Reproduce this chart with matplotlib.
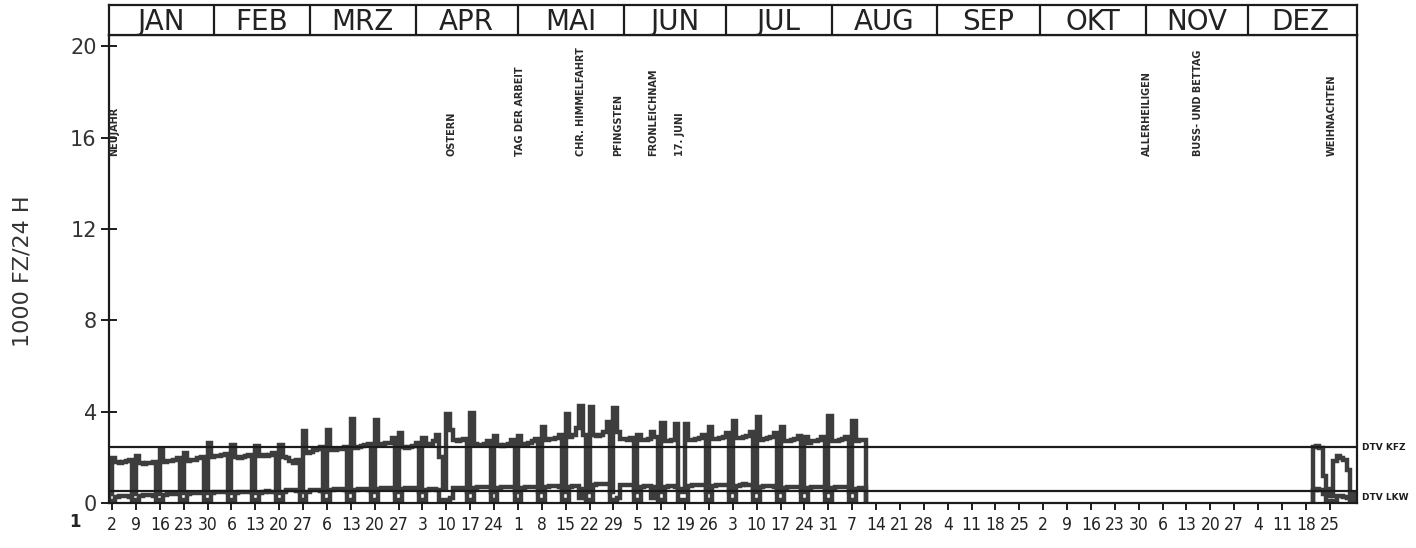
import numpy as np
import matplotlib.pyplot as plt
from matplotlib import transforms

# daily values, 1000 vehicles / 24 h, one row per week: [Sat, Sun, Mon, Tue, Wed, Thu, Fri]
# first row starts Sat 1 Jan (day 0); series stops Wed 10 Aug
kfz_rows = [
    [0.40, 1.95, 1.80, 1.75, 1.80, 1.85, 1.90],
    [0.40, 2.05, 1.75, 1.70, 1.75, 1.75, 1.80],
    [0.40, 2.30, 1.80, 1.85, 1.85, 1.90, 1.95],
    [0.45, 2.20, 1.85, 1.90, 1.90, 1.95, 2.00],
    [0.45, 2.65, 2.00, 2.05, 2.05, 2.10, 2.15],
    [0.45, 2.55, 2.00, 1.95, 2.00, 2.05, 2.10],
    [0.45, 2.50, 2.05, 2.10, 2.05, 2.10, 2.20],
    [0.45, 2.55, 2.00, 1.95, 1.85, 1.75, 1.90],
    [0.50, 3.15, 2.20, 2.25, 2.30, 2.35, 2.45],
    [0.50, 3.20, 2.30, 2.30, 2.35, 2.35, 2.45],
    [0.50, 3.70, 2.40, 2.45, 2.50, 2.55, 2.60],
    [0.50, 3.65, 2.60, 2.60, 2.65, 2.65, 2.85],
    [0.50, 3.05, 2.45, 2.40, 2.45, 2.50, 2.65],
    [0.50, 2.85, 2.55, 2.60, 2.70, 3.00, 2.00],
    [0.60, 3.90, 3.20, 2.75, 2.70, 2.75, 2.80],
    [0.50, 3.95, 2.60, 2.55, 2.55, 2.60, 2.70],
    [0.50, 2.95, 2.55, 2.50, 2.55, 2.60, 2.75],
    [0.50, 2.95, 2.60, 2.60, 2.65, 2.70, 2.80],
    [0.50, 3.35, 2.75, 2.80, 2.80, 2.85, 3.00],
    [0.50, 3.90, 2.90, 3.00, 3.30, 4.25, 3.00],
    [0.50, 4.20, 3.00, 2.95, 3.00, 3.10, 3.55],
    [0.50, 4.15, 3.10, 2.80, 2.80, 2.75, 2.85],
    [0.50, 3.00, 2.75, 2.75, 2.80, 3.10, 2.90],
    [0.50, 3.50, 2.70, 2.70, 2.75, 3.45, 0.60],
    [0.50, 3.45, 2.75, 2.75, 2.80, 2.85, 3.00],
    [0.50, 3.35, 2.80, 2.80, 2.85, 2.90, 3.05],
    [0.50, 3.60, 2.85, 2.85, 2.90, 2.95, 3.10],
    [0.50, 3.75, 2.75, 2.80, 2.85, 2.90, 3.05],
    [0.50, 3.35, 2.70, 2.70, 2.75, 2.80, 2.95],
    [0.50, 2.90, 2.65, 2.70, 2.70, 2.75, 2.90],
    [0.50, 3.80, 2.70, 2.70, 2.75, 2.80, 2.90],
    [0.50, 3.60, 2.70, 2.75, 2.75],
]
lkw_rows = [
    [0.10, 0.05, 0.25, 0.30, 0.30, 0.30, 0.28],
    [0.12, 0.05, 0.30, 0.35, 0.35, 0.35, 0.32],
    [0.12, 0.05, 0.35, 0.40, 0.40, 0.40, 0.38],
    [0.12, 0.05, 0.40, 0.45, 0.45, 0.45, 0.42],
    [0.15, 0.05, 0.45, 0.50, 0.50, 0.50, 0.48],
    [0.15, 0.05, 0.45, 0.50, 0.50, 0.50, 0.48],
    [0.15, 0.05, 0.45, 0.50, 0.52, 0.50, 0.48],
    [0.15, 0.05, 0.50, 0.55, 0.55, 0.55, 0.52],
    [0.15, 0.05, 0.50, 0.55, 0.55, 0.55, 0.52],
    [0.15, 0.05, 0.55, 0.60, 0.60, 0.60, 0.58],
    [0.15, 0.05, 0.55, 0.60, 0.62, 0.60, 0.58],
    [0.15, 0.05, 0.60, 0.65, 0.65, 0.65, 0.62],
    [0.15, 0.05, 0.60, 0.65, 0.65, 0.65, 0.62],
    [0.15, 0.05, 0.55, 0.60, 0.60, 0.55, 0.15],
    [0.15, 0.05, 0.20, 0.65, 0.65, 0.65, 0.62],
    [0.15, 0.05, 0.65, 0.70, 0.70, 0.70, 0.68],
    [0.15, 0.05, 0.65, 0.70, 0.72, 0.70, 0.68],
    [0.15, 0.05, 0.65, 0.70, 0.70, 0.70, 0.68],
    [0.15, 0.05, 0.70, 0.75, 0.75, 0.75, 0.72],
    [0.15, 0.05, 0.70, 0.75, 0.75, 0.20, 0.60],
    [0.15, 0.05, 0.80, 0.85, 0.85, 0.85, 0.82],
    [0.15, 0.05, 0.20, 0.80, 0.80, 0.80, 0.78],
    [0.15, 0.05, 0.70, 0.75, 0.75, 0.20, 0.70],
    [0.15, 0.05, 0.70, 0.75, 0.75, 0.70, 0.15],
    [0.15, 0.05, 0.75, 0.80, 0.80, 0.80, 0.78],
    [0.15, 0.05, 0.75, 0.80, 0.80, 0.80, 0.78],
    [0.15, 0.05, 0.75, 0.80, 0.82, 0.80, 0.78],
    [0.15, 0.05, 0.70, 0.75, 0.75, 0.75, 0.72],
    [0.15, 0.05, 0.65, 0.70, 0.70, 0.70, 0.68],
    [0.15, 0.05, 0.65, 0.70, 0.70, 0.70, 0.68],
    [0.15, 0.05, 0.65, 0.70, 0.70, 0.70, 0.68],
    [0.15, 0.05, 0.60, 0.65, 0.65],
]

# second block: Tue 20 Dec .. Sat 31 Dec
dec_start = 353
kfz_dec = [2.45, 2.50, 2.40, 1.20, 0.60, 0.30, 1.85, 2.05, 1.95, 1.90, 1.45, 0.40]
lkw_dec = [0.55, 0.60, 0.55, 0.40, 0.10, 0.05, 0.10, 0.30, 0.30, 0.25, 0.20, 0.05]

dtv_kfz = 2.44
dtv_lkw = 0.53

months = ['JAN', 'FEB', 'MRZ', 'APR', 'MAI', 'JUN', 'JUL', 'AUG', 'SEP', 'OKT', 'NOV', 'DEZ']
month_days = [31, 28, 31, 30, 31, 30, 31, 31, 30, 31, 30, 31]

# Sundays, day of month
sunday_labels = ['2', '9', '16', '23', '30', '6', '13', '20', '27', '6', '13', '20', '27',
                 '3', '10', '17', '24', '1', '8', '15', '22', '29', '5', '12', '19', '26',
                 '3', '10', '17', '24', '31', '7', '14', '21', '28', '4', '11', '18', '25',
                 '2', '9', '16', '23', '30', '6', '13', '20', '27', '4', '11', '18', '25']

holidays = ['NEUJAHR', 'OSTERN', 'TAG DER ARBEIT', 'CHR. HIMMELFAHRT', 'PFINGSTEN',
            'FRONLEICHNAM', '17. JUNI', 'ALLERHEILIGEN', 'BUSS- UND BETTAG', 'WEIHNACHTEN']
holiday_days = [0, 100, 120, 138, 149, 159, 167, 304, 319, 358]

kfz_main = np.concatenate([np.array(r, dtype=float) for r in kfz_rows])
lkw_main = np.concatenate([np.array(r, dtype=float) for r in lkw_rows])

DARK = '#3d3d3d'
FRAME = '#1c1c1c'

fig = plt.figure(figsize=(14.16, 5.48), dpi=100)
left, right = 108.6 / 1416, 1357 / 1416
bottom, top = 1 - 503 / 548, 1 - 35 / 548
ax = fig.add_axes([left, bottom, right - left, top - bottom])
ax.set_xlim(0, 366)
ax.set_ylim(0, 20.5)


def step_block(x0, vals):
    # daily steps, closed down to zero at both ends
    n = len(vals)
    xs = np.r_[x0, np.arange(x0, x0 + n + 1)]
    ys = np.r_[0, vals, 0]
    return xs, ys


for start, k, l in [(0, kfz_main, lkw_main), (dec_start, kfz_dec, lkw_dec)]:
    xs, ys = step_block(start, np.array(k))
    ax.plot(xs, ys, drawstyle='steps-post', color=DARK, lw=3.2, solid_joinstyle='miter')
    xs, ys = step_block(start, np.array(l))
    ax.plot(xs, ys, drawstyle='steps-post', color=DARK, lw=3.2, solid_joinstyle='miter')

# DTV reference lines
ax.axhline(dtv_kfz, color=FRAME, lw=1.6)
ax.axhline(dtv_lkw, color=FRAME, lw=1.6)
trans = transforms.blended_transform_factory(ax.transAxes, ax.transData)
ax.text(1.004, dtv_kfz, 'DTV KFZ', transform=trans, fontsize=6.5, fontweight='bold',
        va='center', ha='left', color=FRAME)
ax.text(1.004, dtv_lkw - 0.3, 'DTV LKW', transform=trans, fontsize=6.5, fontweight='bold',
        va='center', ha='left', color=FRAME)

# holiday labels
for name, d in zip(holidays, holiday_days):
    x = d + 0.5 if d > 0 else d + 1.5
    ax.text(x, 15.2, name, rotation=90, ha='center', va='bottom', fontsize=7,
            fontweight='bold', color='#2a2a2a', clip_on=True)

for s in ax.spines.values():
    s.set_color(FRAME)
    s.set_linewidth(1.6)

ax.set_yticks([0, 4, 8, 12, 16, 20])
ax.tick_params(axis='y', direction='inout', length=11, width=1.4, color=FRAME,
               labelsize=15, pad=3, labelcolor='#333333')
ax.set_xticks(np.arange(1, 365, 7))
ax.set_xticklabels(sunday_labels)
ax.tick_params(axis='x', direction='out', length=5, width=1.4, color=FRAME,
               labelsize=12.5, pad=4, labelcolor='#222222')
for t in ax.get_xticklabels():
    t.set_family('DejaVu Sans')
    t.set_stretch('condensed')

fig.text(0.016, 0.505, '1000 FZ/24 H', rotation=90, ha='center', va='center',
         fontsize=16, color='#333333')
fig.text(75 / 1416, 1 - 522 / 548, '1', fontsize=12, fontweight='bold', ha='center',
         va='center', color='#222222')

# month band on top
axm = fig.add_axes([left, top, right - left, 1 - 5 / 548 - top])
axm.set_xlim(0, 366)
axm.set_ylim(0, 1)
axm.set_xticks([])
axm.set_yticks([])
for s in axm.spines.values():
    s.set_color(FRAME)
    s.set_linewidth(1.6)
edges = np.cumsum([0] + month_days)
for e in edges[1:-1]:
    axm.axvline(e, color=FRAME, lw=1.6)
for name, a, b in zip(months, edges[:-1], edges[1:]):
    axm.text((a + b) / 2, 0.45, name, ha='center', va='center', fontsize=20,
             color='#222222')

plt.savefig('out.png', dpi=100)
